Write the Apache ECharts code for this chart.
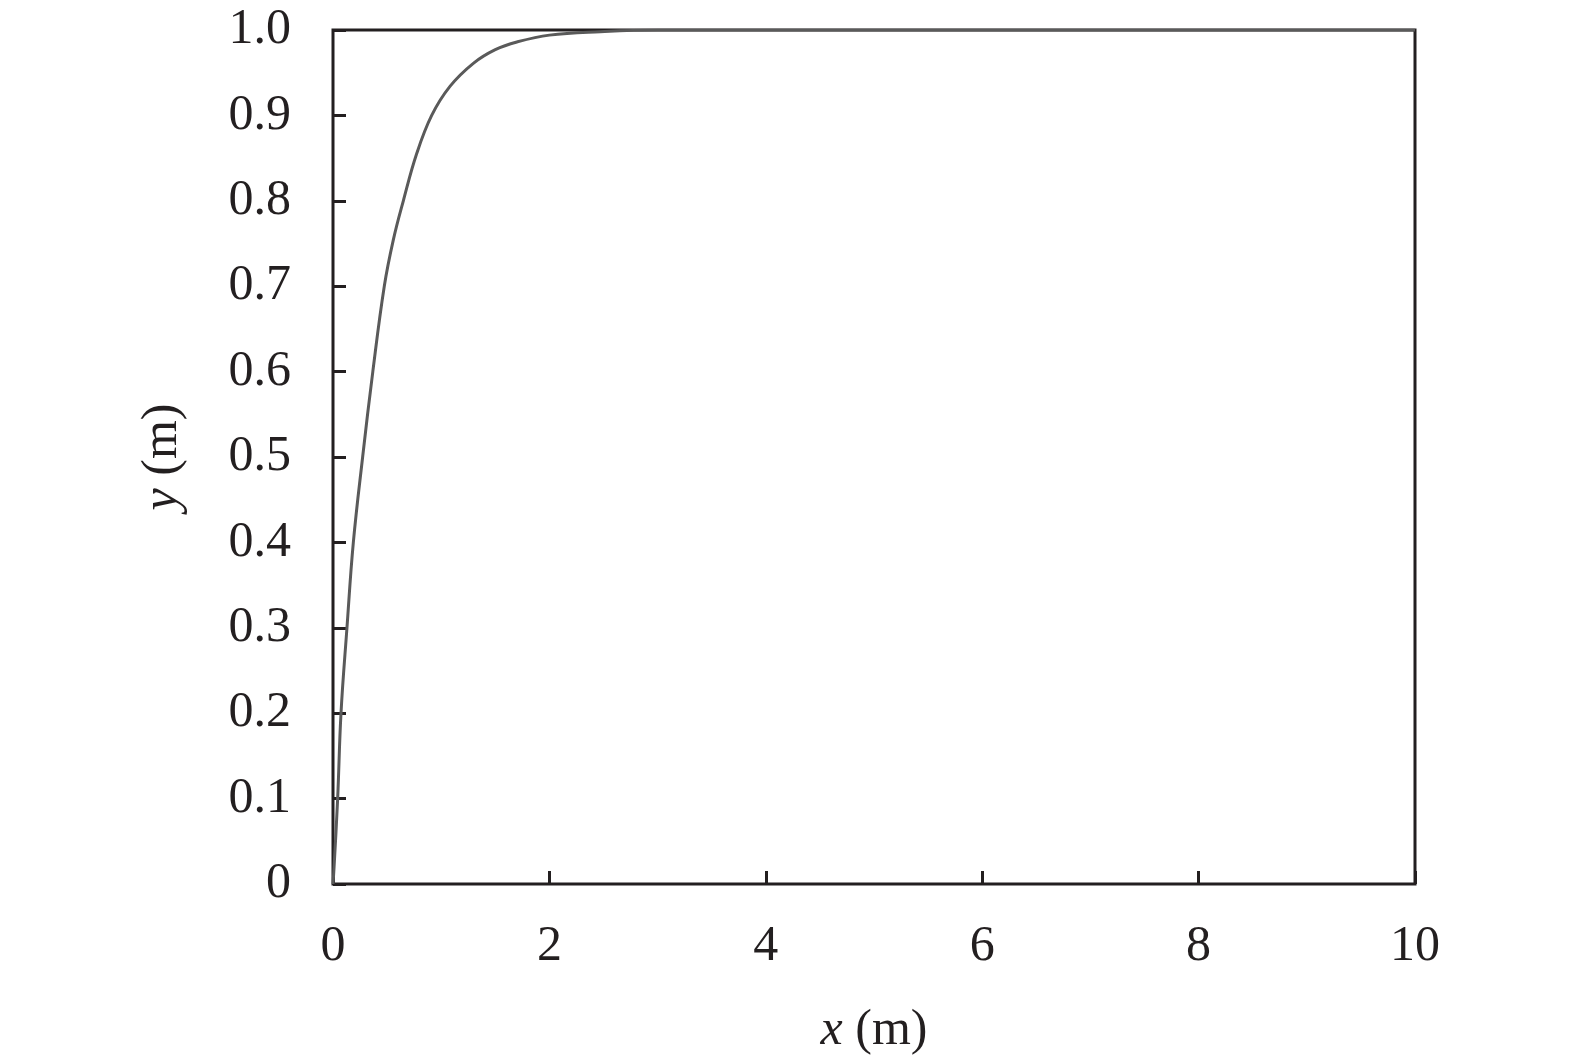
<!DOCTYPE html>
<html>
<head>
<meta charset="utf-8">
<script src="https://cdn.jsdelivr.net/npm/echarts@6/dist/echarts.min.js"></script>
<style>
html,body{margin:0;padding:0;background:#fff;}
#chart{width:1575px;height:1061px;}
</style>
</head>
<body>
<div id="chart"></div>
<script>
// Data
const xValues = [0, 0.01, 0.043, 0.074, 0.129, 0.188, 0.274, 0.368, 0.474, 0.557, 0.65, 0.773, 0.912, 1.081, 1.297, 1.5, 1.7, 2.0, 2.47, 3, 4, 6, 8, 10];
const yValues = [0, 0.02, 0.1, 0.2, 0.3, 0.4, 0.5, 0.6, 0.7, 0.754, 0.8, 0.855, 0.9, 0.934, 0.961, 0.977, 0.986, 0.994, 0.998, 1, 1, 1, 1, 1];
const xTickLabels = ['0', '2', '4', '6', '8', '10'];
const yTickLabels = ['0', '0.1', '0.2', '0.3', '0.4', '0.5', '0.6', '0.7', '0.8', '0.9', '1.0'];

const ink = '#231f20';
const font = 'Liberation Serif';
const seriesData = xValues.map((x, i) => [x, yValues[i]]);

const chart = echarts.init(document.getElementById('chart'), null, {renderer: 'canvas'});
chart.setOption({
  backgroundColor: '#fff',
  animation: false,
  grid: {
    left: 333, top: 30, right: 160, bottom: 177,
    show: true, borderColor: ink, borderWidth: 3, backgroundColor: 'transparent'
  },
  xAxis: {
    type: 'value', min: 0, max: 10, interval: 2,
    axisLine: {show: false},
    axisTick: {show: true, inside: true, length: 13, lineStyle: {color: ink, width: 3}},
    splitLine: {show: false},
    axisLabel: {
      margin: 38, color: ink, fontFamily: font, fontSize: 50,
      formatter: v => xTickLabels[Math.round(v / 2)]
    },
    name: '{i|x} (m)', nameLocation: 'middle', nameGap: 122,
    nameTextStyle: {
      color: ink, fontFamily: font, fontSize: 50,
      rich: {i: {fontStyle: 'italic', fontFamily: font, fontSize: 50, color: ink}}
    }
  },
  yAxis: {
    type: 'value', min: 0, max: 1, interval: 0.1,
    axisLine: {show: false},
    axisTick: {show: true, inside: true, length: 13, lineStyle: {color: ink, width: 3}},
    splitLine: {show: false},
    axisLabel: {
      margin: 42, color: ink, fontFamily: font, fontSize: 50,
      formatter: v => yTickLabels[Math.round(v * 10)]
    },
    name: '{i|y} (m)', nameLocation: 'middle', nameGap: 145, nameRotate: 90,
    nameTextStyle: {
      color: ink, fontFamily: font, fontSize: 50,
      rich: {i: {fontStyle: 'italic', fontFamily: font, fontSize: 50, color: ink}}
    }
  },
  series: [{
    type: 'line',
    data: seriesData,
    smooth: 0.4,
    showSymbol: false,
    clip: true,
    lineStyle: {color: '#5a5a5a', width: 3}
  }]
});
</script>
</body>
</html>
